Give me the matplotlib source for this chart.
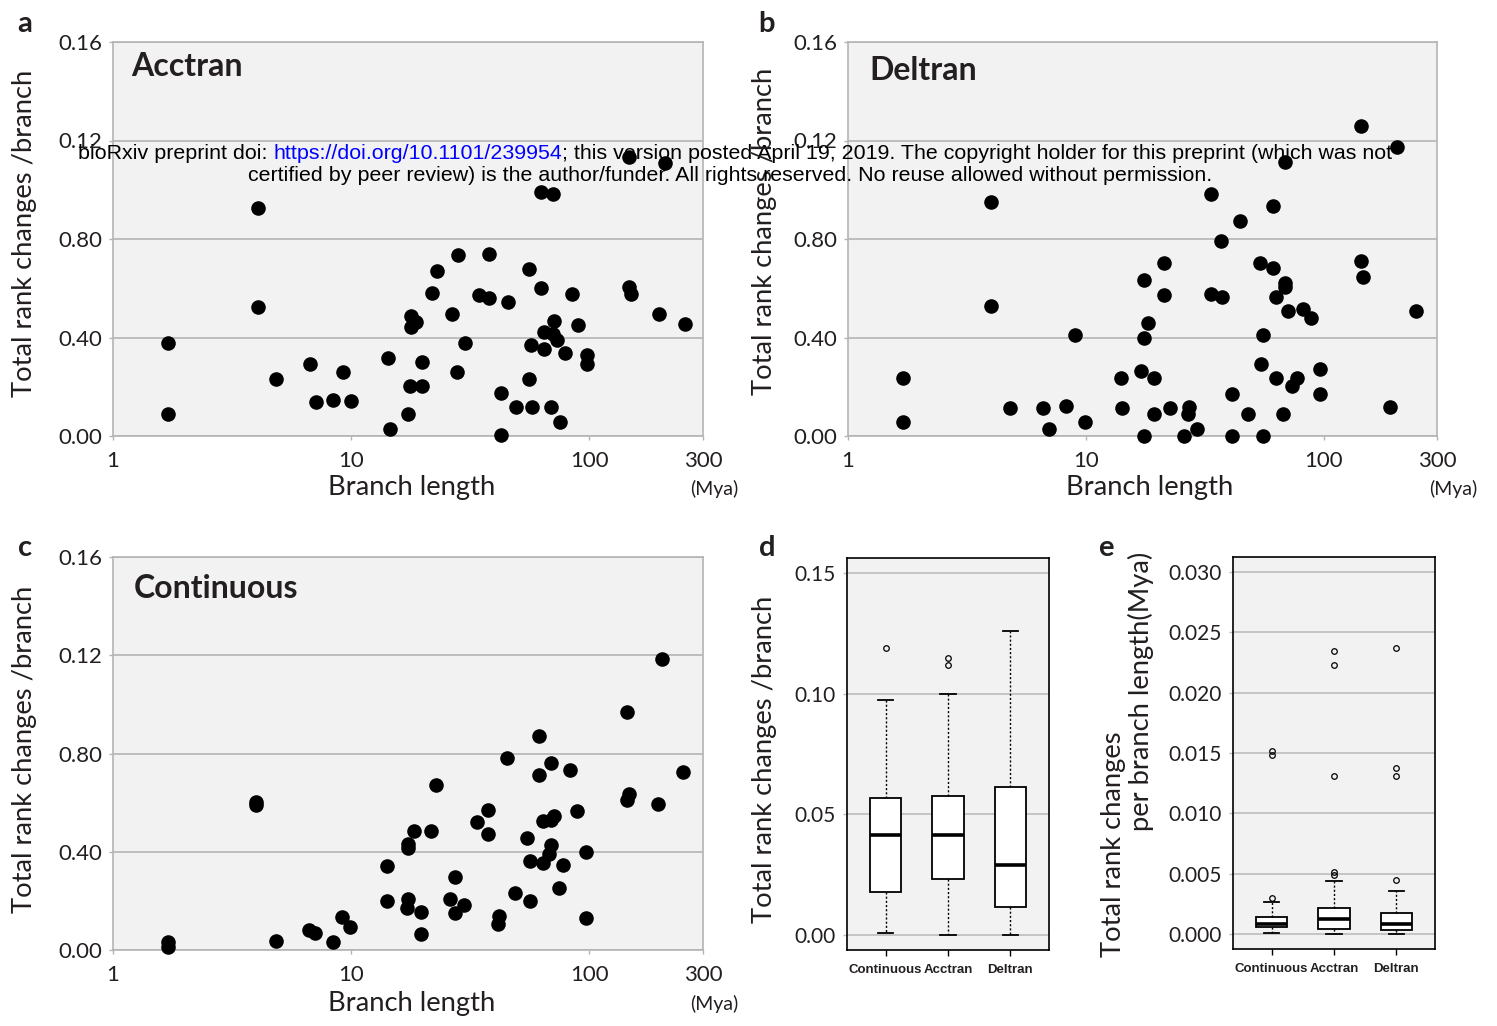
import matplotlib
matplotlib.use("Agg")
import matplotlib.pyplot as plt
from matplotlib.text import Annotation
from matplotlib.ticker import NullLocator

# ---------------- data ----------------
acc_x = [1.71, 1.71, 4.07, 4.07, 4.85, 6.69, 7.12, 8.40, 9.21, 10.0, 14.3, 14.5, 17.4, 17.7, 19.8, 19.8,
         17.9, 18.7, 17.9, 21.8, 23.0, 26.4, 28.0, 27.8, 30.0, 34.3, 38.0, 38.0, 42.6, 42.6, 45.6, 49.3,
         55.9, 55.9, 57.0, 57.2, 62.8, 62.8, 70.2, 64.7, 64.7, 70.8, 70.2, 72.8, 69.3, 75.5, 78.7, 84.5,
         89.7, 98.2, 98.2, 147, 147, 149, 196, 208, 253]
acc_y = [0.0377, 0.0088, 0.0927, 0.0523, 0.0233, 0.0294, 0.0139, 0.0148, 0.0260, 0.0143, 0.0316, 0.0027,
         0.0088, 0.0203, 0.0203, 0.0299, 0.0489, 0.0462, 0.0444, 0.0579, 0.0672, 0.0494, 0.0737, 0.0260,
         0.0377, 0.0574, 0.0741, 0.0559, 0.0175, 0.0003, 0.0543, 0.0116, 0.0680, 0.0233, 0.0368, 0.0116,
         0.0603, 0.0990, 0.0982, 0.0424, 0.0354, 0.0466, 0.0415, 0.0390, 0.0116, 0.0058, 0.0338, 0.0576,
         0.0451, 0.0327, 0.0291, 0.1135, 0.0606, 0.0576, 0.0496, 0.1108, 0.0455]

del_x = [144, 204, 68.8, 33.7, 4.0, 61.1, 44.7, 37.2, 21.4, 54.2, 61.1, 144, 146, 17.6, 69.0, 69.0, 21.4,
         33.7, 37.3, 63.4, 4.0, 70.6, 82.2, 88.2, 245, 18.2, 9.0, 17.6, 55.9, 54.4, 1.71, 14.1, 17.1, 19.4,
         63.4, 77.1, 73.8, 96.4, 96.4, 41.4, 1.71, 4.82, 6.63, 8.28, 6.98, 9.96, 14.2, 19.4, 22.7, 27.2,
         27.0, 29.4, 17.6, 25.9, 41.4, 55.9, 48.2, 67.8, 191]
del_y = [0.1257, 0.1173, 0.1112, 0.0983, 0.0951, 0.0933, 0.0872, 0.0791, 0.0701, 0.0701, 0.0681, 0.0709,
         0.0644, 0.0633, 0.0620, 0.0606, 0.0572, 0.0576, 0.0563, 0.0563, 0.0526, 0.0508, 0.0514, 0.0481,
         0.0508, 0.0458, 0.0410, 0.0396, 0.0410, 0.0292, 0.0235, 0.0235, 0.0264, 0.0235, 0.0237, 0.0237,
         0.0202, 0.0271, 0.0172, 0.0172, 0.0058, 0.0115, 0.0115, 0.0121, 0.0030, 0.0058, 0.0115, 0.0091,
         0.0115, 0.0118, 0.0088, 0.0030, 0.0, 0.0, 0.0, 0.0, 0.0088, 0.0088, 0.0118]

con_x = [202, 144, 61.5, 44.9, 68.8, 83.0, 61.5, 248, 22.8, 4.0, 4.0, 147, 144, 194, 37.6, 88.5, 33.7,
         71.3, 68.8, 63.8, 37.6, 18.3, 21.6, 17.4, 17.4, 54.8, 69.3, 67.5, 97.1, 56.5, 63.8, 77.4, 14.2,
         27.3, 74.6, 48.7, 56.5, 14.1, 17.4, 17.2, 19.6, 26.1, 29.7, 27.3, 41.7, 41.4, 97.1, 19.6, 9.15,
         9.93, 6.63, 7.06, 8.37, 4.82, 1.71, 1.71]
con_y = [0.1186, 0.0969, 0.0871, 0.0781, 0.0761, 0.0732, 0.0714, 0.0725, 0.0671, 0.0601, 0.0589, 0.0635,
         0.0612, 0.0595, 0.0569, 0.0565, 0.0520, 0.0544, 0.0531, 0.0524, 0.0471, 0.0486, 0.0486, 0.0433,
         0.0415, 0.0454, 0.0429, 0.0390, 0.0401, 0.0362, 0.0356, 0.0348, 0.0340, 0.0299, 0.0252, 0.0234,
         0.0201, 0.0201, 0.0207, 0.0170, 0.0156, 0.0207, 0.0185, 0.0152, 0.0139, 0.0106, 0.0129, 0.0064,
         0.0136, 0.0093, 0.0082, 0.0068, 0.0034, 0.0038, 0.0034, 0.0011]

scatter_yticks = [0.0, 0.04, 0.08, 0.12, 0.16]
scatter_yticklabels = ["0.00", "0.40", "0.80", "0.12", "0.16"]
scatter_xticks = [1, 10, 100, 300]
scatter_xticklabels = ["1", "10", "100", "300"]

methods = ["Continuous", "Acctran", "Deltran"]
d_whislo = [0.0011, 0.0, 0.0]
d_q1 = [0.0179, 0.0234, 0.0117]
d_med = [0.0417, 0.0417, 0.0293]
d_q3 = [0.0569, 0.0576, 0.0613]
d_whishi = [0.0972, 0.0997, 0.1258]
d_fliers = [[0.119], [0.1145, 0.1118], []]
d_yticks = [0.00, 0.05, 0.10, 0.15]
d_yticklabels = ["0.00", "0.05", "0.10", "0.15"]

e_whislo = [0.00011, 0.0, 0.0]
e_q1 = [0.00058, 0.00047, 0.00041]
e_med = [0.00085, 0.00124, 0.00083]
e_q3 = [0.00146, 0.00215, 0.00174]
e_whishi = [0.00267, 0.00444, 0.00361]
e_fliers = [[0.00298, 0.0148, 0.0152], [0.00494, 0.00518, 0.0131, 0.0223, 0.0234],
            [0.0045, 0.0131, 0.01376, 0.0237]]
e_yticks = [0.000, 0.005, 0.010, 0.015, 0.020, 0.025, 0.030]
e_yticklabels = ["0.000", "0.005", "0.010", "0.015", "0.020", "0.025", "0.030"]

# ---------------- figure ----------------
W, H = 1497, 1026
plt.rcParams['font.family'] = ['Lato', 'DejaVu Sans']
fig = plt.figure(figsize=(W / 100, H / 100), dpi=100)
fig.patch.set_facecolor('white')

TXT = '#231f20'
BG = '#f2f2f2'
GRID = '#b4b4b4'


def rect(l, t, r, b):
    return [l / W, 1 - b / H, (r - l) / W, (b - t) / H]


def fx(px):
    return px / W


def fy(py):
    return 1 - py / H


def scatter_panel(r, xs, ys, title, tpos):
    ax = fig.add_axes(rect(*r))
    ax.set_facecolor(BG)
    ax.set_xscale('log')
    ax.set_xlim(1, 300)
    ax.set_ylim(0, 0.16)
    ax.set_yticks(scatter_yticks)
    ax.set_yticklabels(scatter_yticklabels)
    ax.set_xticks(scatter_xticks)
    ax.set_xticklabels(scatter_xticklabels)
    ax.xaxis.set_minor_locator(NullLocator())
    for s in ax.spines.values():
        s.set_color(GRID)
        s.set_linewidth(1.2)
    ax.grid(axis='y', color=GRID, linewidth=1.2)
    ax.set_axisbelow(True)
    ax.tick_params(axis='y', length=3, width=1, color=GRID, pad=5, labelsize=16, labelcolor=TXT)
    ax.tick_params(axis='x', length=3, width=1, color=GRID, pad=8, labelsize=16, labelcolor=TXT)
    ax.scatter(xs, ys, s=110, c='black', linewidths=0, clip_on=False, zorder=3)
    ax.text(tpos[0], tpos[1], title, transform=ax.transAxes, fontsize=23, fontweight='bold',
            color=TXT, ha='left', va='center')
    return ax


scatter_panel((113, 42, 703, 436), acc_x, acc_y, "Acctran", (0.03, 0.939))
scatter_panel((848, 42, 1437, 436), del_x, del_y, "Deltran", (0.037, 0.927))
scatter_panel((113, 557, 703, 950), con_x, con_y, "Continuous", (0.036, 0.921))


def box_panel(r, whislo, q1, med, q3, whishi, fliers, ylim, yticks, yticklabels):
    ax = fig.add_axes(rect(*r))
    ax.set_facecolor(BG)
    stats = []
    for i, m in enumerate(methods):
        stats.append(dict(label=m, whislo=whislo[i], q1=q1[i], med=med[i], q3=q3[i],
                          whishi=whishi[i], fliers=fliers[i]))
    ax.bxp(stats, positions=[1, 2, 3], widths=0.5, capwidths=0.25, patch_artist=True,
           boxprops=dict(facecolor='white', edgecolor='black', linewidth=1.3),
           medianprops=dict(color='black', linewidth=2.6),
           whiskerprops=dict(color='black', linewidth=1.0, linestyle=(0, (1.5, 1.5))),
           capprops=dict(color='black', linewidth=1.3),
           flierprops=dict(marker='o', markerfacecolor='none', markeredgecolor='black',
                           markersize=4, markeredgewidth=0.9))
    ax.set_xlim(0.38, 3.62)
    ax.set_ylim(*ylim)
    ax.set_yticks(yticks)
    ax.set_yticklabels(yticklabels)
    ax.set_xticks([1, 2, 3])
    ax.set_xticklabels(methods, fontfamily=['Liberation Sans', 'DejaVu Sans'], fontweight='bold',
                       fontsize=9.5)
    for s in ax.spines.values():
        s.set_color('black')
        s.set_linewidth(1.2)
    ax.grid(axis='y', color='#bdbdbd', linewidth=1.2)
    ax.set_axisbelow(True)
    ax.tick_params(axis='y', length=3, width=1, color='#bdbdbd', pad=5, labelsize=15, labelcolor=TXT)
    ax.tick_params(axis='x', length=4, width=1, color='black', pad=6, labelcolor=TXT)
    return ax


box_panel((847, 558, 1049, 950), d_whislo, d_q1, d_med, d_q3, d_whishi, d_fliers,
          (-0.006, 0.156), d_yticks, d_yticklabels)
box_panel((1233, 557, 1435, 949), e_whislo, e_q1, e_med, e_q3, e_whishi, e_fliers,
          (-0.0012, 0.0312), e_yticks, e_yticklabels)

# axis labels
LFS = 19.7
ylab = "Total rank changes /branch"
for (x, y) in [(25, 233), (765, 231), (25, 749), (765, 759)]:
    fig.text(fx(x), fy(y), ylab, rotation=90, ha='center', va='center', fontsize=LFS, color=TXT)
fig.text(fx(1113), fy(844), "Total rank changes", rotation=90, ha='center', va='center',
         fontsize=LFS, color=TXT)
fig.text(fx(1141), fy(691), "per branch length(Mya)", rotation=90, ha='center', va='center',
         fontsize=LFS, color=TXT)

for (x, y) in [(412, 488), (1150, 488), (412, 1003)]:
    fig.text(fx(x), fy(y), "Branch length", ha='center', va='center', fontsize=LFS, color=TXT)
for (x, y) in [(714, 489), (1453, 489), (714, 1004)]:
    fig.text(fx(x), fy(y), "(Mya)", ha='center', va='center', fontsize=14, color=TXT)

# panel letters
for (x, y, s) in [(25, 24, 'a'), (767, 24, 'b'), (25, 548, 'c'), (767, 548, 'd'), (1106, 548, 'e')]:
    fig.text(fx(x), fy(y), s, ha='center', va='center', fontsize=21, fontweight='bold', color=TXT)

# bioRxiv watermark
WM = ['Liberation Sans', 'DejaVu Sans']
wfs = 15.4
t1 = fig.text(fx(78), fy(159), "bioRxiv preprint doi:", ha='left', va='baseline',
              fontsize=wfs, family=WM, color='black')
space_pt = 0.278 * wfs
t2 = Annotation("https://doi.org/10.1101/239954", xy=(1, 0), xycoords=t1,
                xytext=(space_pt, 0), textcoords='offset points',
                ha='left', va='bottom', fontsize=wfs, family=WM, color='#0000ff')
fig.add_artist(t2)
t3 = Annotation("; this version posted April 19, 2019. The copyright holder for this preprint (which was not",
                xy=(1, 0), xycoords=t2, ha='left', va='bottom', fontsize=wfs, family=WM, color='black')
fig.add_artist(t3)
fig.text(fx(730), fy(181), "certified by peer review) is the author/funder. All rights reserved. "
         "No reuse allowed without permission.", ha='center', va='baseline', fontsize=wfs,
         family=WM, color='black')

fig.savefig("out.png", dpi=100, facecolor='white')
